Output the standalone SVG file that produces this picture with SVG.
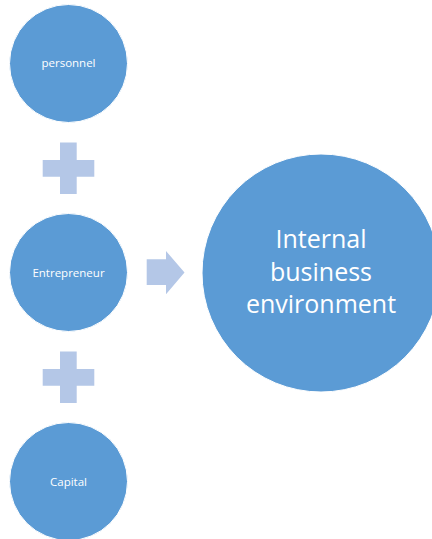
<svg xmlns="http://www.w3.org/2000/svg" width="432" height="539" viewBox="0 0 432 539">
<style>
.node{fill:#5B9BD5;stroke:#FFFFFF;stroke-width:1}
.sym{fill:#B4C7E7}
.small{font-family:"Open Sans","Liberation Sans",sans-serif;font-size:11.5px;fill:#FFFFFF;text-anchor:middle}
.big{font-family:"Open Sans","Liberation Sans",sans-serif;font-size:25px;fill:#FFFFFF;text-anchor:middle}
</style>
<rect width="432" height="539" fill="#FFFFFF"/>
<g id="personnel">
<circle class="node" cx="68.5" cy="63.5" r="59"/>
<text class="small" x="68.5" y="67">personnel</text>
</g>
<g id="entrepreneur">
<circle class="node" cx="68.5" cy="272.5" r="59"/>
<text class="small" x="68.5" y="276.5">Entrepreneur</text>
</g>
<g id="capital">
<circle class="node" cx="68.5" cy="481.5" r="59"/>
<text class="small" x="68.5" y="485.5">Capital</text>
</g>
<g id="internal-business-environment">
<circle class="node" cx="321" cy="273" r="119"/>
<text class="big" x="321" y="248">Internal</text>
<text class="big" x="321" y="281">business</text>
<text class="big" x="321" y="313">environment</text>
</g>
<g id="connectors">
<path class="sym" d="M60,142.5 H76.7 V160 H94.3 V176.7 H76.7 V194 H60 V176.7 H42.7 V160 H60 Z"/>
<path class="sym" d="M60,351.5 H76.7 V369 H94.3 V385.7 H76.7 V403 H60 V385.7 H42.7 V369 H60 Z"/>
<path class="sym" d="M146.7,259.3 H166 V251 L184.5,272.5 L166,294.3 V285 H146.7 Z"/>
</g>
</svg>
